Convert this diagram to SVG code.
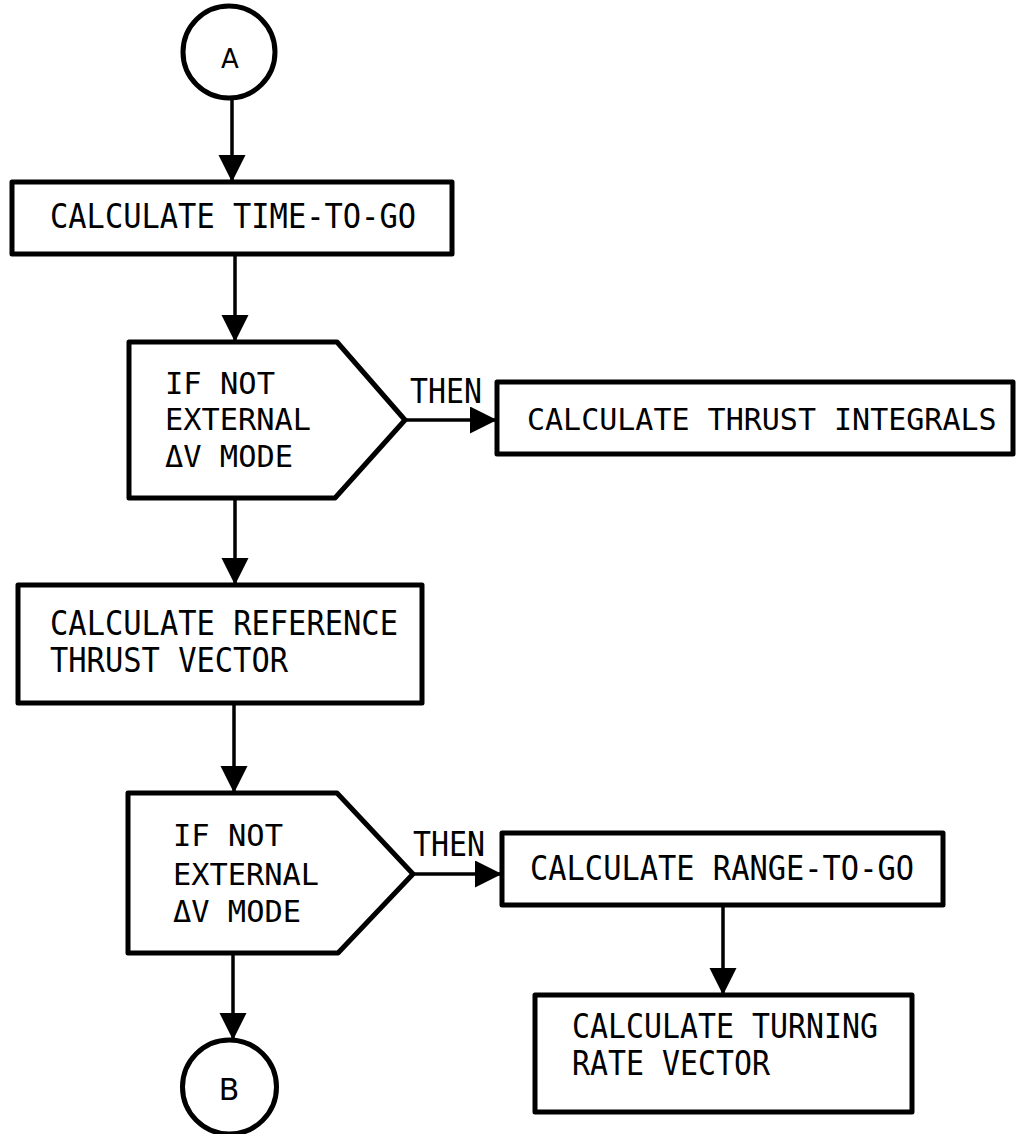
<svg xmlns="http://www.w3.org/2000/svg" width="1017" height="1134" viewBox="0 0 1017 1134">
<style>
.shape{fill:#fff;stroke:#000;stroke-width:5;stroke-linejoin:round}
.conn{stroke:#000;stroke-width:3.5;fill:none}
.t{font-family:"DejaVu Sans Mono","Liberation Mono",monospace;font-size:33px;fill:#000}
.h{font-size:30px}
.c{font-family:"DejaVu Sans","Liberation Sans",sans-serif;font-size:26px;fill:#000;text-anchor:middle}
</style>
<defs>
<marker id="arr" markerUnits="userSpaceOnUse" markerWidth="28" markerHeight="28" refX="27" refY="13.5" orient="auto">
<path d="M0,0 L27,13.5 L0,27 z" fill="#000"/>
</marker>
</defs>
<rect width="1017" height="1134" fill="#fff"/>
<g id="connectors">
<line class="conn" x1="232" y1="99" x2="232" y2="182" marker-end="url(#arr)"/>
<line class="conn" x1="235" y1="254" x2="235" y2="342" marker-end="url(#arr)"/>
<line class="conn" x1="405" y1="420" x2="497" y2="420" marker-end="url(#arr)"/>
<line class="conn" x1="235" y1="498" x2="235" y2="585" marker-end="url(#arr)"/>
<line class="conn" x1="234" y1="703" x2="234" y2="793" marker-end="url(#arr)"/>
<line class="conn" x1="413" y1="874" x2="502" y2="874" marker-end="url(#arr)"/>
<line class="conn" x1="723" y1="905" x2="723" y2="995" marker-end="url(#arr)"/>
<line class="conn" x1="233" y1="953" x2="233" y2="1040" marker-end="url(#arr)"/>
<text class="t" x="410" y="403" textLength="72" lengthAdjust="spacingAndGlyphs">THEN</text>
<text class="t" x="413" y="856" textLength="72" lengthAdjust="spacingAndGlyphs">THEN</text>
</g>
<g id="nodeA">
<circle class="shape" cx="229" cy="52" r="46"/>
<text class="c" x="230" y="68">A</text>
</g>
<g id="timeToGo">
<rect class="shape" x="12" y="182" width="440" height="72"/>
<text class="t" x="50" y="228" textLength="366" lengthAdjust="spacingAndGlyphs">CALCULATE TIME-TO-GO</text>
</g>
<g id="decision1">
<path class="shape" d="M129,342 L337,342 L405,420 L335,498 L129,498 Z"/>
<text class="t h" x="165" y="394" textLength="110" lengthAdjust="spacingAndGlyphs">IF NOT</text>
<text class="t h" x="165" y="430" textLength="146" lengthAdjust="spacingAndGlyphs">EXTERNAL</text>
<text class="t h" x="165" y="467" textLength="128" lengthAdjust="spacingAndGlyphs">ΔV MODE</text>
</g>
<g id="thrustIntegrals">
<rect class="shape" x="497" y="382" width="516" height="72"/>
<text class="t h" x="527" y="430">CALCULATE THRUST INTEGRALS</text>
</g>
<g id="refThrust">
<rect class="shape" x="18" y="585" width="404" height="118"/>
<text class="t" x="50" y="635" textLength="348" lengthAdjust="spacingAndGlyphs">CALCULATE REFERENCE</text>
<text class="t" x="50" y="672" textLength="238" lengthAdjust="spacingAndGlyphs">THRUST VECTOR</text>
</g>
<g id="decision2">
<path class="shape" d="M128,793 L337,793 L413,874 L338,953 L128,953 Z"/>
<text class="t h" x="173" y="846" textLength="110" lengthAdjust="spacingAndGlyphs">IF NOT</text>
<text class="t h" x="173" y="885" textLength="146" lengthAdjust="spacingAndGlyphs">EXTERNAL</text>
<text class="t h" x="173" y="922" textLength="128" lengthAdjust="spacingAndGlyphs">ΔV MODE</text>
</g>
<g id="rangeToGo">
<rect class="shape" x="502" y="833" width="441" height="72"/>
<text class="t" x="530" y="880" textLength="384" lengthAdjust="spacingAndGlyphs">CALCULATE RANGE-TO-GO</text>
</g>
<g id="turningRate">
<rect class="shape" x="535" y="995" width="377" height="117"/>
<text class="t" x="572" y="1038" textLength="306" lengthAdjust="spacingAndGlyphs">CALCULATE TURNING</text>
<text class="t" x="572" y="1075" textLength="198" lengthAdjust="spacingAndGlyphs">RATE VECTOR</text>
</g>
<g id="nodeB">
<circle class="shape" cx="229.5" cy="1087" r="47"/>
<text class="c" x="229" y="1100" style="font-size:30px">B</text>
</g>
</svg>
